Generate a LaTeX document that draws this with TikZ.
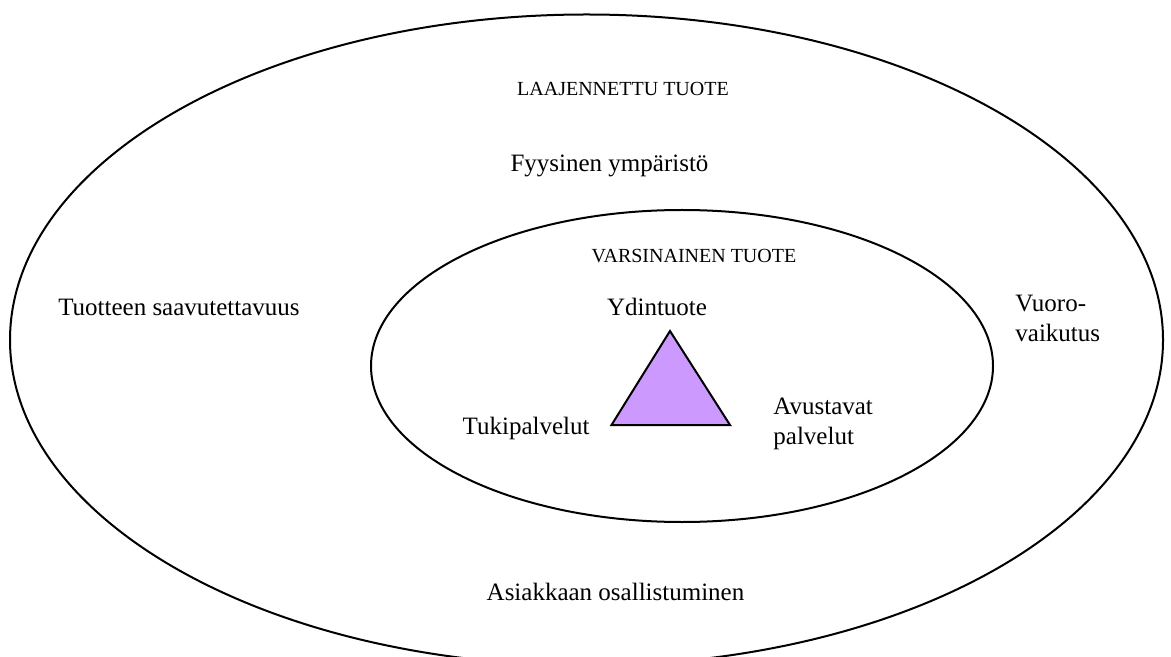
\documentclass[tikz,border=0pt]{standalone}
\usepackage{fontspec}
\setmainfont{Liberation Serif}
\definecolor{corepurple}{HTML}{CC99FF}
\tikzset{
  ring/.style={draw=black, line width=1pt},
  core/.style={draw=black, line width=1pt, fill=corepurple, line join=miter},
  lbl/.style={font=\fontsize{12.5}{15}\selectfont, inner sep=0pt, align=left},
  capslbl/.style={font=\fontsize{10}{12}\selectfont, inner sep=0pt},
}
\begin{document}
\begin{tikzpicture}[x=0.5pt,y=-0.5pt]
\useasboundingbox (0,0) rectangle (1171,657);
\clip (0,0) rectangle (1171,657);
% outer and inner ellipses
\draw[ring] (586.5,340) ellipse [x radius=576.5, y radius=325.5];
\draw[ring] (682,366) ellipse [x radius=311, y radius=156];
% core triangle
\draw[core] (670,331) -- (730,425) -- (611.5,425) -- cycle;
% labels
\node[capslbl, anchor=base] (laaj) at (623,96) {LAAJENNETTU TUOTE};
\node[lbl, anchor=base] (fyys) at (609.5,172) {Fyysinen ympäristö};
\node[lbl, anchor=base] (saav) at (179,315) {Tuotteen saavutettavuus};
\node[lbl, anchor=base west] (vuor) at (1015,341.5) {Vuoro-\\vaikutus};
\node[lbl, anchor=base] (asia) at (615.5,600) {Asiakkaan osallistuminen};
\node[capslbl, anchor=base] (vars) at (694,263) {VARSINAINEN TUOTE};
\node[lbl, anchor=base] (ydin) at (657,316) {Ydintuote};
\node[lbl, anchor=base east] (tuki) at (590,434) {Tukipalvelut};
\node[lbl, anchor=base west] (avus) at (773,444) {Avustavat\\palvelut};
\end{tikzpicture}
\end{document}
